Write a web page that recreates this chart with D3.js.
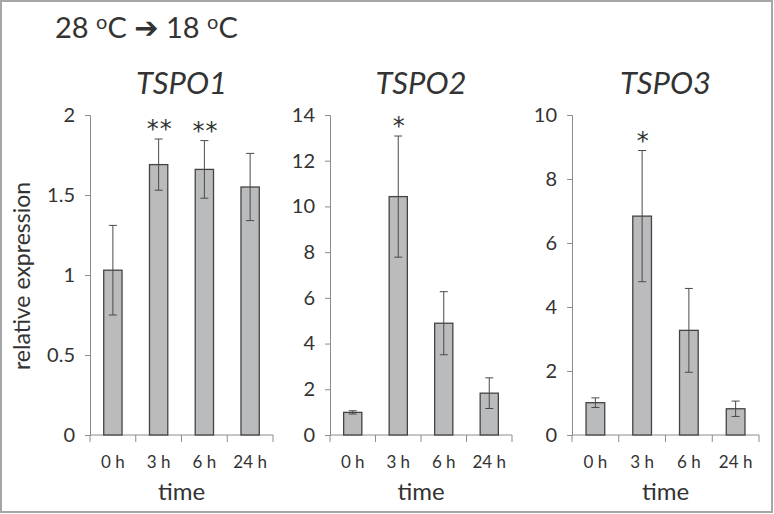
<!DOCTYPE html>
<html><head><meta charset="utf-8">
<script src="https://cdn.jsdelivr.net/npm/d3@7"></script>
<style>
body{margin:0;background:#fff;}
svg{display:block;}
text{font-family:Lato,"Open Sans",sans-serif;fill:#333;}
</style></head>
<body>
<script>
const categories = ["0 h","3 h","6 h","24 h"];
const genes = ["TSPO1","TSPO2","TSPO3"];
const tspo1Mean = [1.03,1.69,1.66,1.55];
const tspo1Err  = [0.28,0.16,0.18,0.21];
const tspo2Mean = [0.99,10.43,4.89,1.83];
const tspo2Err  = [0.07,2.65,1.38,0.67];
const tspo3Mean = [1.01,6.84,3.27,0.82];
const tspo3Err  = [0.15,2.05,1.31,0.24];
const tspo1Sig = ["","**","**",""];
const tspo2Sig = ["","*","",""];
const tspo3Sig = ["","*","",""];
const yMax = [2,14,10];
const yTicks = [[0,0.5,1,1.5,2],[0,2,4,6,8,10,12,14],[0,2,4,6,8,10]];

const means=[tspo1Mean,tspo2Mean,tspo3Mean];
const errs=[tspo1Err,tspo2Err,tspo3Err];
const sigs=[tspo1Sig,tspo2Sig,tspo3Sig];
const xRanges=[[90,273],[330,512],[572,759]];

const W=774,H=514;
const svg=d3.select("body").append("svg").attr("width",W).attr("height",H);
svg.append("rect").attr("x",1).attr("y",1).attr("width",W-3).attr("height",H-3)
  .attr("fill","#fff").attr("stroke","#a6a6a6").attr("stroke-width",2);

// title
const t=svg.append("text").attr("x",55).attr("y",38).style("font-size","29px");
t.append("tspan").text("28 ");
t.append("tspan").text("o").style("font-size","20px").attr("dy",-9);
t.append("tspan").text("C ").attr("dy",9);
t.append("tspan").text("\u2794").style("font-family","DejaVu Sans").style("font-size","29px");
t.append("tspan").text(" 18 ");
t.append("tspan").text("o").style("font-size","20px").attr("dy",-9);
t.append("tspan").text("C").attr("dy",9);

genes.forEach((g,i)=>{
  const x=d3.scaleBand().domain(categories).range(xRanges[i]).paddingInner(0.6).paddingOuter(0.3);
  const xb=d3.scaleBand().domain(categories).range(xRanges[i]);
  const y=d3.scaleLinear().domain([0,yMax[i]]).range([435,115]);
  const gp=svg.append("g");
  // y axis
  const ya=gp.append("g").attr("transform",`translate(${xRanges[i][0]},0)`)
    .call(d3.axisLeft(y).tickValues(yTicks[i]).tickSize(5).tickPadding(10).tickFormat(d=>d));
  ya.selectAll("path,line").attr("stroke","#8c8c8c");
  ya.selectAll("text").style("font-size","20px").style("fill","#333").attr("font-family",null);
  // x axis
  const xa=gp.append("g").attr("transform","translate(0,435)");
  xa.append("line").attr("x1",xRanges[i][0]).attr("x2",xRanges[i][1]).attr("stroke","#8c8c8c");
  const edges=categories.map(c=>xb(c)).concat([xRanges[i][1]]);
  xa.selectAll("line.tk").data(edges).join("line").attr("class","tk")
    .attr("x1",d=>d).attr("x2",d=>d).attr("y1",0).attr("y2",7).attr("stroke","#8c8c8c");
  xa.selectAll("text").data(categories).join("text")
    .attr("x",d=>xb(d)+xb.bandwidth()/2).attr("y",33).attr("text-anchor","middle")
    .style("font-size","17px").text(d=>d);
  // bars
  gp.selectAll("rect.bar").data(means[i]).join("rect").attr("class","bar")
    .attr("x",(d,j)=>x(categories[j])).attr("width",x.bandwidth())
    .attr("y",d=>y(d)).attr("height",d=>435-y(d))
    .attr("fill","#babbbd").attr("stroke","#444").attr("stroke-width",1.3);
  // error bars
  const eg=gp.selectAll("g.err").data(means[i]).join("g").attr("class","err");
  eg.each(function(d,j){
    const cx=x(categories[j])+x.bandwidth()/2, e=errs[i][j];
    const s=d3.select(this);
    s.append("line").attr("x1",cx).attr("x2",cx).attr("y1",y(d+e)).attr("y2",y(d-e)).attr("stroke","#4a4a4a");
    [d+e,d-e].forEach(v=>s.append("line").attr("x1",cx-4).attr("x2",cx+4).attr("y1",y(v)).attr("y2",y(v)).attr("stroke","#4a4a4a"));
    if(sigs[i][j]) s.append("text").attr("x",cx+1).attr("y",y(d+e)-2).attr("text-anchor","middle")
      .style("font-family","DejaVu Sans").style("font-size","24px").style("letter-spacing","1px").text(sigs[i][j]);
  });
  // gene title
  const xc=(xRanges[i][0]+xRanges[i][1])/2;
  gp.append("text").attr("x",xc).attr("y",94).attr("text-anchor","middle")
    .style("font-size","31px").style("font-style","italic").text(g);
  // x label
  gp.append("text").attr("x",xc).attr("y",500).attr("text-anchor","middle")
    .style("font-size","24px").text("time");
});
svg.append("text").attr("transform","translate(30,276) rotate(-90)").attr("text-anchor","middle")
  .style("font-size","23px").text("relative expression");
</script>
</body></html>
